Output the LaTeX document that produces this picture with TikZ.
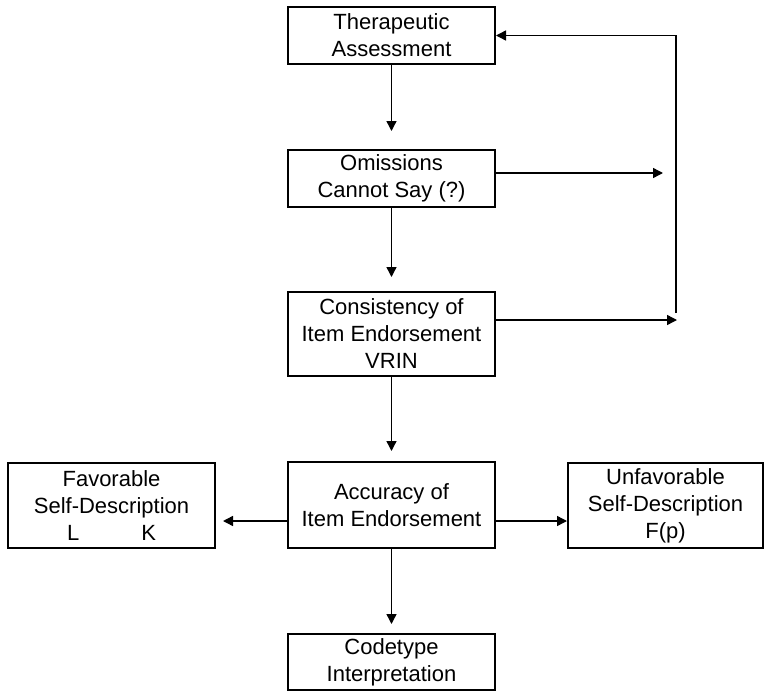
\documentclass[tikz,border=0pt]{standalone}
\usepackage{fontspec}
\setmainfont{Liberation Sans}
\usetikzlibrary{arrows.meta,positioning,calc}

\begin{document}
\begin{tikzpicture}[>={Triangle[length=5pt,width=5pt]},
x=0.5pt, y=-0.5pt,
box/.style={draw, line width=1pt, align=center, inner sep=0pt,
  minimum width=103.5pt, font=\fontsize{11}{13.5}\selectfont},
flow/.style={->, line width=0.7pt, shorten >=5pt}]
\useasboundingbox (0,0) rectangle (767,691);
\node[box, minimum height=28.5pt] (ta) at (391.5,35.5) {Therapeutic\\Assessment};
\node[box, minimum height=28.5pt] (om) at (391.5,178.5) {Omissions\\Cannot Say (?)};
\node[box, minimum height=42pt] (co) at (391.5,334) {Consistency of\\Item Endorsement\\VRIN};
\node[box, minimum height=43pt] (ac) at (391.5,505) {Accuracy of\\Item Endorsement};
\node[box, minimum height=42.5pt] (fav) at (111.5,505.5) {Favorable\\Self-Description\\L\hspace{31pt}K};
\node[box, minimum height=42.5pt, minimum width=97.5pt] (unf) at (665.5,505.5) {Unfavorable\\Self-Description\\F(p)};
\node[box, minimum height=28pt] (ct) at (391.5,662) {Codetype\\Interpretation};
\coordinate (omend) at (663,173);
\coordinate (coend) at (677,320);
\coordinate (fbbot) at (676,313);
\coordinate (side) at (391.5,521);
\draw[flow, shorten >=9pt] (ta) -- (om);
\draw[flow, shorten >=7pt] (om) -- (co);
\draw[flow] (co) -- (ac);
\draw[flow, shorten >=4.5pt] (ac) -- (ct);
\draw[flow, shorten >=3.5pt] (ac.west |- side) -- (fav.east |- side);
\draw[flow, shorten >=0pt] (ac.east |- side) -- (unf.west |- side);
\draw[flow, shorten >=0pt] (om.east |- omend) -- (omend);
\draw[flow, shorten >=0pt] (co.east |- coend) -- (coend);
\draw[flow, shorten >=0pt] (fbbot) |- (ta.east);
\end{tikzpicture}
\end{document}
